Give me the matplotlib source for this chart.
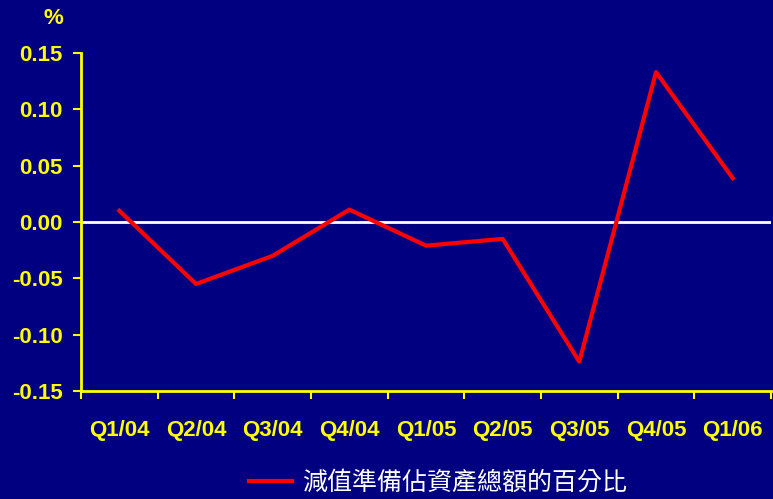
import matplotlib
matplotlib.use("Agg")
import matplotlib.pyplot as plt
from matplotlib.lines import Line2D

categories = ["Q1/04", "Q2/04", "Q3/04", "Q4/04", "Q1/05", "Q2/05", "Q3/05", "Q4/05", "Q1/06"]
values = [0.010, -0.055, -0.030, 0.011, -0.021, -0.015, -0.124, 0.133, 0.039]
yticks = [-0.15, -0.10, -0.05, 0.00, 0.05, 0.10, 0.15]
series_label = "減值準備佔資產總額的百分比"

NAVY = "#000080"
YEL = "#FFFF00"
TFONT, TSIZE = "Liberation Sans", 16

fig = plt.figure(figsize=(7.73, 4.99), dpi=100, facecolor=NAVY)
ax = fig.add_axes([81/773, 1 - 391/499, 690/773, 338/499], facecolor=NAVY)

x = list(range(len(categories)))
ax.axhline(0, color="white", lw=2, zorder=1)
ax.plot(x, values, color="#FF0000", lw=3, zorder=2)

ax.set_xlim(-0.5, len(categories) - 0.5)
ax.set_ylim(-0.15, 0.15)
ax.set_yticks(yticks)
ax.set_yticklabels([f"{v:.2f}" for v in yticks])
ax.set_xticks(x)
ax.set_xticklabels(categories)
ax.set_xticks([i - 0.5 for i in range(len(categories) + 1)], minor=True)
ax.tick_params(axis="x", which="major", length=0, pad=21)
ax.tick_params(axis="x", which="minor", length=6, width=1.5, color=YEL, direction="out")
ax.tick_params(axis="y", length=6, width=1.5, color=YEL, direction="out", pad=7)

for lab in ax.get_xticklabels() + ax.get_yticklabels():
    lab.set_color(YEL)
    lab.set_fontfamily(TFONT)
    lab.set_fontweight("bold")
    lab.set_fontsize(TSIZE)

for s in ["top", "right"]:
    ax.spines[s].set_visible(False)
for s in ["left", "bottom"]:
    ax.spines[s].set_color(YEL)
    ax.spines[s].set_linewidth(2)

fig.text(53/773, 1 - 18/499, "%", color=YEL, fontsize=TSIZE, fontweight="bold",
         family=TFONT, ha="center", va="center")

handle = Line2D([0], [0], color="#FF0000", lw=3)
fig.legend([handle], [series_label], loc="center", bbox_to_anchor=(438/773, 1 - 483/499),
           frameon=False, handlelength=1.7, handletextpad=0.4,
           prop={"family": ["Noto Sans CJK TC", "DejaVu Sans"], "size": 18},
           labelcolor="white")

fig.savefig("out.png", dpi=100, facecolor=NAVY)
